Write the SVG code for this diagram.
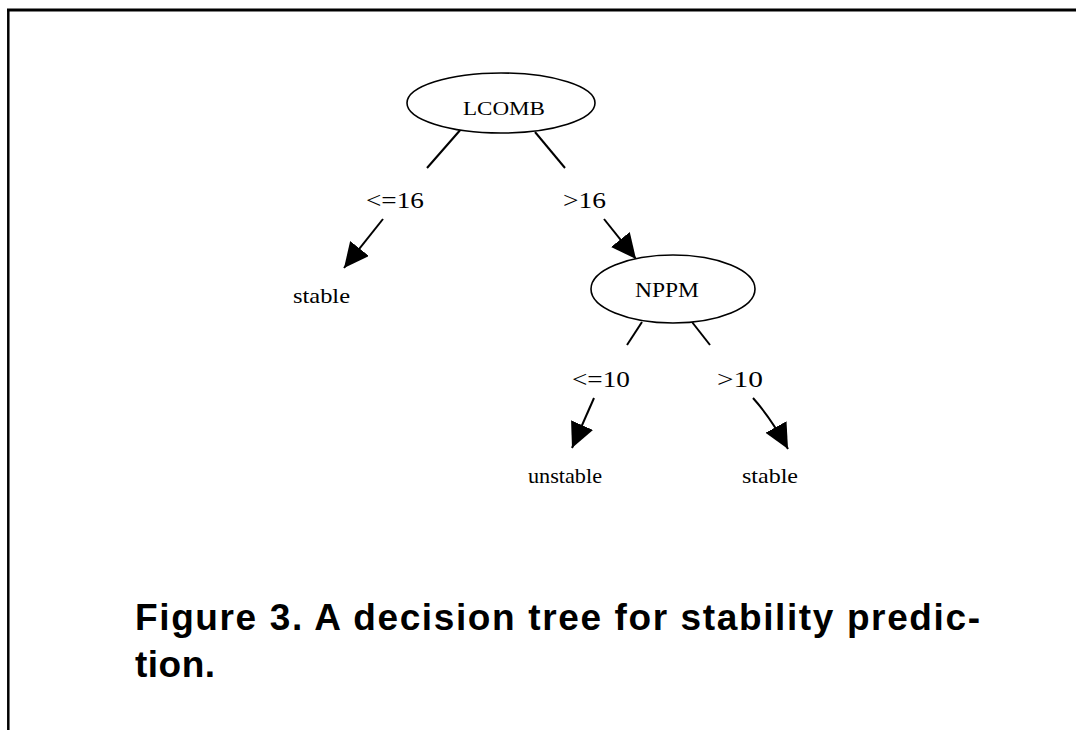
<svg xmlns="http://www.w3.org/2000/svg" width="1076" height="730" viewBox="0 0 1076 730">
<style>
.node{fill:#fff;stroke:#000;stroke-width:1.6}
.lbl{font-family:"Liberation Serif","Times New Roman",serif;fill:#000}
.edge{fill:none;stroke:#000;stroke-width:2}
.cap{font-family:"Liberation Sans",Arial,sans-serif;font-weight:bold;font-size:37px;fill:#000}
</style>
<defs>
<marker id="ah" markerUnits="userSpaceOnUse" markerWidth="28" markerHeight="26" refX="25" refY="12" orient="auto">
<path d="M0,0 L25,12 L0,24 z" fill="#000"/>
</marker>
</defs>
<rect x="0" y="0" width="1076" height="730" fill="#fff"/>
<g id="frame" stroke="#000" fill="none">
<line x1="7" y1="10" x2="1076" y2="10" stroke-width="3"/>
<line x1="8.3" y1="9" x2="8.3" y2="730" stroke-width="2.5"/>
</g>
<g id="connectors">
<line class="edge" x1="462" y1="128" x2="427" y2="168"/>
<line class="edge" x1="535" y1="132" x2="565" y2="168"/>
<line class="edge" x1="383" y1="219" x2="344" y2="268" marker-end="url(#ah)"/>
<line class="edge" x1="604" y1="219" x2="636" y2="259" marker-end="url(#ah)"/>
<line class="edge" x1="642" y1="322" x2="627" y2="345"/>
<line class="edge" x1="692" y1="322" x2="710" y2="345"/>
<line class="edge" x1="594" y1="398" x2="572" y2="448" marker-end="url(#ah)"/>
<path class="edge" d="M753,398 Q771,418 788,449" marker-end="url(#ah)"/>
<text class="lbl" x="366" y="208" font-size="23" textLength="58" lengthAdjust="spacingAndGlyphs">&lt;=16</text>
<text class="lbl" x="563" y="208" font-size="23" textLength="43" lengthAdjust="spacingAndGlyphs">&gt;16</text>
<text class="lbl" x="572" y="387" font-size="23" textLength="58" lengthAdjust="spacingAndGlyphs">&lt;=10</text>
<text class="lbl" x="717" y="387" font-size="23" textLength="46" lengthAdjust="spacingAndGlyphs">&gt;10</text>
</g>
<g id="n-lcomb">
<ellipse class="node" cx="501" cy="103" rx="94" ry="30"/>
<text class="lbl" x="463" y="115" font-size="19" textLength="82" lengthAdjust="spacingAndGlyphs">LCOMB</text>
</g>
<g id="n-stable1">
<text class="lbl" x="293" y="303" font-size="21" textLength="57" lengthAdjust="spacingAndGlyphs">stable</text>
</g>
<g id="n-nppm">
<ellipse class="node" cx="673" cy="289" rx="82" ry="34"/>
<text class="lbl" x="635" y="297" font-size="22" textLength="64" lengthAdjust="spacingAndGlyphs">NPPM</text>
</g>
<g id="n-unstable">
<text class="lbl" x="528" y="483" font-size="21" textLength="74" lengthAdjust="spacingAndGlyphs">unstable</text>
</g>
<g id="n-stable2">
<text class="lbl" x="742" y="483" font-size="21" textLength="56" lengthAdjust="spacingAndGlyphs">stable</text>
</g>
<g id="caption">
<text class="cap" x="135" y="630" textLength="845" lengthAdjust="spacing">Figure 3. A decision tree for stability predic-</text>
<text class="cap" x="135" y="677" textLength="80" lengthAdjust="spacing">tion.</text>
</g>
</svg>
